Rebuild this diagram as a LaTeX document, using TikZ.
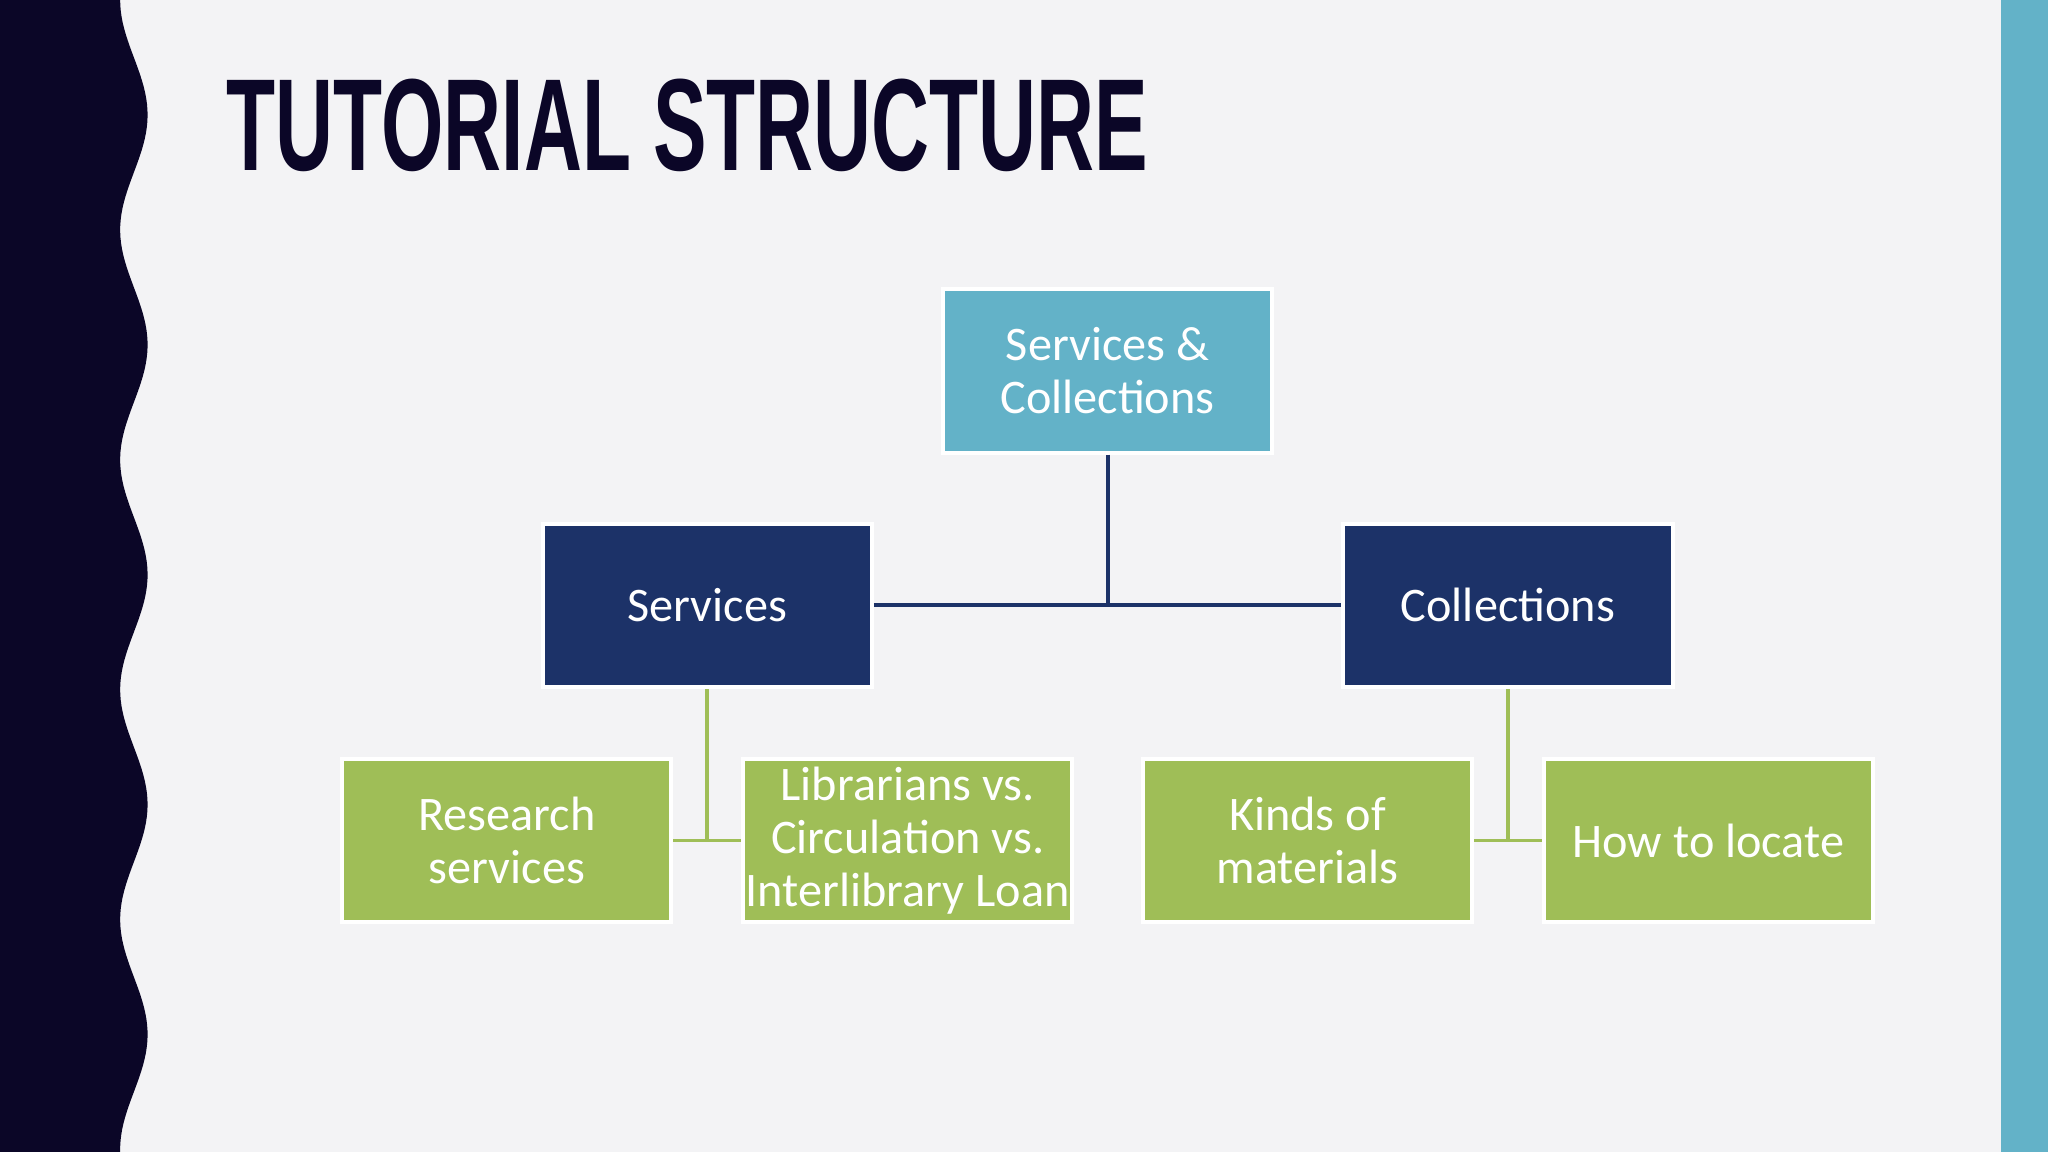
\documentclass[tikz,border=0pt]{standalone}
\usepackage{fontspec}
\usepackage{graphicx}
\setmainfont{Carlito}
\newfontfamily\titlefont{Liberation Sans}
\definecolor{bg}{HTML}{F3F3F5}
\definecolor{dark}{HTML}{0B0627}
\definecolor{teal}{HTML}{63B2C8}
\definecolor{navy}{HTML}{1C3268}
\definecolor{green}{HTML}{9FBE57}
\begin{document}
\begin{tikzpicture}[x=0.01cm,y=-0.01cm,
  box/.style={draw=white,line width=0.03cm,minimum width=2.52cm,minimum height=1.25cm,text=white,align=center,font=\fontsize{10.5}{11.6}\selectfont,inner sep=0pt},
  nv/.style={navy,line width=0.03cm},
  gr/.style={green,line width=0.03cm}]
\fill[bg] (0,0) rectangle (1568,882);
\useasboundingbox (0,0) rectangle (1568,882);
\fill[dark] (0,0) -- plot[domain=0:882,samples=200] ({102.5-10.5*cos(\x/176*360)},\x) -- (0,882) -- cycle;
\fill[teal] (1532,0) rectangle (1568,882);
\node[anchor=north west,inner sep=0pt,text=dark] (title) at (173,60) {\resizebox{7.05cm}{0.70cm}{\titlefont\bfseries TUTORIAL STRUCTURE}};
\node[box,fill=teal] (top) at (848,284) {Services \&\\Collections};
\node[box,fill=navy] (serv) at (541.5,463.5) {Services};
\node[box,fill=navy] (coll) at (1154.5,463.5) {Collections};
\node[box,fill=green] (res) at (388,643.5) {Research\\services};
\node[box,fill=green] (lib) at (695,643.5) {Librarians vs.\\Circulation vs.\\Interlibrary Loan};
\node[box,fill=green] (kinds) at (1001,643.5) {Kinds of\\materials};
\node[box,fill=green] (how) at (1308,643.5) {How to locate};
\draw[nv] (top.south) -- (top.south |- serv.east);
\draw[nv] (serv.east) -- (coll.west);
\draw[gr] (serv.south) -- (serv.south |- res.east);
\draw[gr] (res.east) -- (lib.west);
\draw[gr] (coll.south) -- (coll.south |- kinds.east);
\draw[gr] (kinds.east) -- (how.west);
\end{tikzpicture}
\end{document}
